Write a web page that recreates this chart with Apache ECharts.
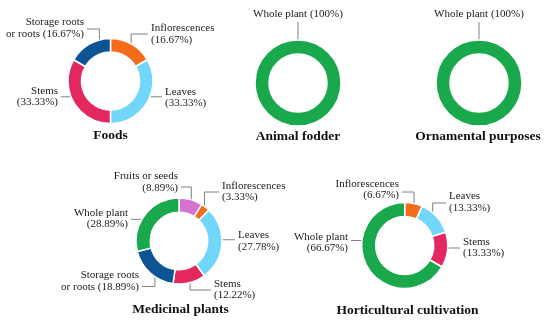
<!DOCTYPE html>
<html><head><meta charset="utf-8">
<script src="https://cdn.jsdelivr.net/npm/echarts@6/dist/echarts.min.js"></script>
<style>html,body{margin:0;padding:0;background:#fff}#c{width:550px;height:327px}</style>
</head><body><div id="c"></div>
<script>
// ---- data ----
const foodsCats = ['Inflorescences', 'Leaves', 'Stems', 'Storage roots\nor roots'];
const foodsVals = [16.67, 33.33, 33.33, 16.67];
const fodderCats = ['Whole plant'];
const fodderVals = [100];
const ornamentalCats = ['Whole plant'];
const ornamentalVals = [100];
const medicinalCats = ['Fruits or seeds', 'Inflorescences', 'Leaves', 'Stems', 'Storage roots\nor roots', 'Whole plant'];
const medicinalVals = [8.89, 3.33, 27.78, 12.22, 18.89, 28.89];
const hortiCats = ['Inflorescences', 'Leaves', 'Stems', 'Whole plant'];
const hortiVals = [6.67, 13.33, 13.33, 66.67];
const titles = ['Foods', 'Animal fodder', 'Ornamental purposes', 'Medicinal plants', 'Horticultural cultivation'];

// ---- styles / layout ----
const colorMap = {
  'Inflorescences': '#F46B1C',
  'Leaves': '#72D6FA',
  'Stems': '#E3285F',
  'Storage roots\nor roots': '#0D5495',
  'Whole plant': '#19A84C',
  'Fruits or seeds': '#D673D1'
};
const FONT = '"Liberation Serif", "DejaVu Serif", serif';
const pies = [
  { cats: foodsCats, vals: foodsVals, center: [110.5, 81], r: [29, 42.5], lineR: 36, title: [110.5, 137],
    labels: [
      { x: 151, y: 34, align: 'left', ly: 34, a: 55, sep: '\n' },
      { x: 165, y: 97.5, align: 'left', a: -26, sep: '\n' },
      { x: 58, y: 96.5, align: 'right', a: 206, sep: '\n' },
      { x: 84, y: 28, align: 'right', ly: 29, a: 108, sep: ' ' }
    ] },
  { cats: fodderCats, vals: fodderVals, center: [298, 83], r: [29, 43], lineR: 29, title: [298, 137.5],
    labels: [ { x: 298, y: 14, align: 'center', ly: 22, a: 90, up: true, sep: ' ' } ] },
  { cats: ornamentalCats, vals: ornamentalVals, center: [479, 83], r: [29, 43], lineR: 29, title: [478, 137.5],
    labels: [ { x: 479, y: 14, align: 'center', ly: 22, a: 90, up: true, sep: ' ' } ] },
  { cats: medicinalCats, vals: medicinalVals, center: [179, 241], r: [28.7, 43], lineR: 36, title: [180.5, 310.5],
    labels: [
      { x: 178, y: 182, align: 'right', ly: 187, a: 70, sep: '\n' },
      { x: 222, y: 191.5, align: 'left', ly: 192, a: 45, sep: '\n' },
      { x: 238, y: 241, align: 'left', a: 2, sep: '\n' },
      { x: 214, y: 289.5, align: 'left', ly: 290, a: -72, sep: '\n' },
      { x: 139, y: 281, align: 'right', ly: 286.5, a: -132, sep: ' ' },
      { x: 128, y: 218.5, align: 'right', a: 143, sep: '\n' }
    ] },
  { cats: hortiCats, vals: hortiVals, center: [404.7, 245.5], r: [29, 43], lineR: 36, title: [407.5, 311.5],
    labels: [
      { x: 399, y: 189.5, align: 'right', ly: 192, a: 75, sep: '\n' },
      { x: 449, y: 202, align: 'left', ly: 203, a: 39, sep: '\n' },
      { x: 463, y: 247.5, align: 'left', a: -4, sep: '\n' },
      { x: 348, y: 242.5, align: 'right', a: 172, sep: '\n' }
    ] }
];

function linePoints(p, cfg) {
  const rad = cfg.a * Math.PI / 180;
  const s = [p.center[0] + p.lineR * Math.cos(rad), p.center[1] - p.lineR * Math.sin(rad)];
  if (cfg.up) return [s, [s[0], cfg.ly]];
  const endX = cfg.align === 'left' ? cfg.x - 3 : cfg.x + 3;
  if (cfg.ly != null) return [s, [s[0], cfg.ly], [endX, cfg.ly]];
  return [s, [endX, s[1]]];
}

const series = pies.map(function (p, si) {
  return {
    type: 'pie',
    center: p.center,
    radius: p.r,
    startAngle: 90,
    clockwise: true,
    avoidLabelOverlap: false,
    silent: true,
    itemStyle: { borderColor: '#ffffff', borderWidth: 1.5 },
    label: {
      show: true,
      position: 'outside',
      fontFamily: FONT,
      fontSize: 11,
      lineHeight: 11.5,
      color: '#1a1a1a',
      formatter: function (prm) {
        return prm.name + p.labels[prm.dataIndex].sep + '(' + prm.value + '%)';
      }
    },
    labelLine: { show: true, length: 5, length2: 5, lineStyle: { color: '#808080', width: 1 } },
    labelLayout: function (prm) {
      const cfg = p.labels[prm.dataIndex];
      return {
        x: cfg.x, y: cfg.y, align: cfg.align, verticalAlign: 'middle',
        labelLinePoints: linePoints(p, cfg)
      };
    },
    data: p.cats.map(function (c, i) {
      return { name: c, value: p.vals[i], itemStyle: { color: colorMap[c] } };
    })
  };
});

const titleOpts = pies.map(function (p, i) {
  return {
    text: titles[i], left: p.title[0], top: p.title[1] - 8, textAlign: 'center', padding: 0,
    textStyle: { fontFamily: FONT, fontSize: 13.5, fontWeight: 'bold', color: '#111' }
  };
});

const chart = echarts.init(document.getElementById('c'), null, { renderer: 'canvas' });
chart.setOption({ animation: false, backgroundColor: '#ffffff', title: titleOpts, series: series });
</script>
</body></html>
